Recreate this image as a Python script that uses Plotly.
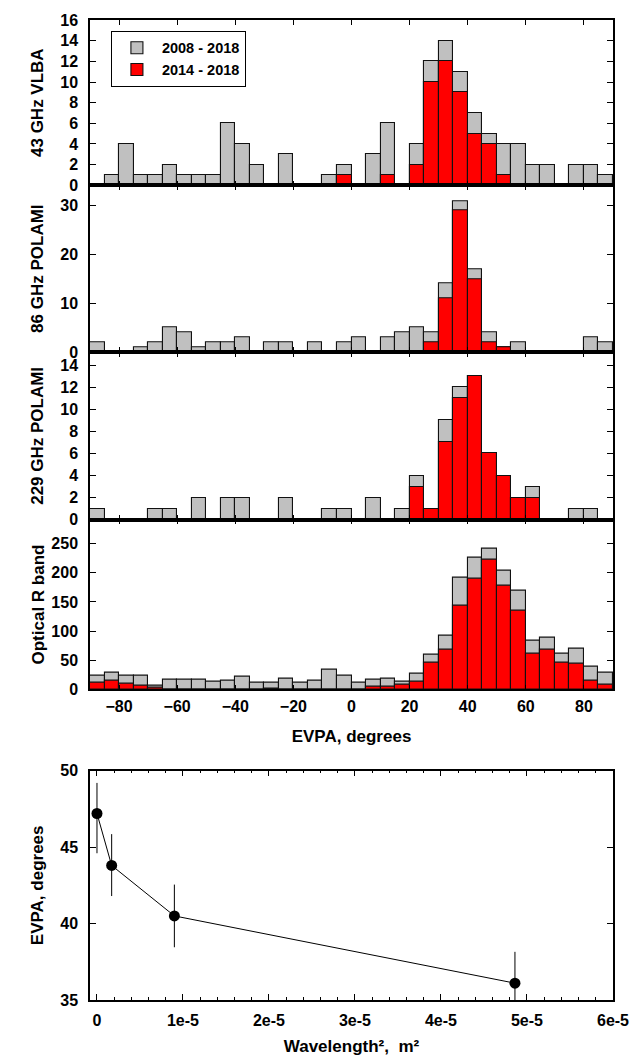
import numpy as np
import plotly.graph_objects as go

# ---------------- data ----------------
bin_width = 5
evpa_bin_centers = list(np.arange(-87.5, 90, bin_width))   # 36 bins of 5 deg from -90 to 90
evpa_ticks = [-80, -60, -40, -20, 0, 20, 40, 60, 80]

vlba43_2008_2018 = [0, 1, 4, 1, 1, 2, 1, 1, 1, 6, 4, 2, 0, 3, 0, 0, 1, 2,
                    0, 3, 6, 0, 4, 12, 14, 11, 7, 5, 4, 4, 2, 2, 0, 2, 2, 1]
vlba43_2014_2018 = [0, 0, 0, 0, 0, 0, 0, 0, 0, 0, 0, 0, 0, 0, 0, 0, 0, 1,
                    0, 0, 1, 0, 2, 10, 12, 9, 5, 4, 1, 0, 0, 0, 0, 0, 0, 0]

polami86_2008_2018 = [2, 0, 0, 1, 2, 5, 4, 1, 2, 2, 3, 0, 2, 2, 0, 2, 0, 2,
                      3, 0, 3, 4, 5, 4, 14, 31, 17, 4, 1, 2, 0, 0, 0, 0, 3, 2]
polami86_2014_2018 = [0, 0, 0, 0, 0, 0, 0, 0, 0, 0, 0, 0, 0, 0, 0, 0, 0, 0,
                      0, 0, 0, 0, 0, 2, 11, 29, 15, 2, 1, 0, 0, 0, 0, 0, 0, 0]

polami229_2008_2018 = [1, 0, 0, 0, 1, 1, 0, 2, 0, 2, 2, 0, 0, 2, 0, 0, 1, 1,
                       0, 2, 0, 1, 4, 1, 9, 12, 13, 6, 4, 2, 3, 0, 0, 1, 1, 0]
polami229_2014_2018 = [0, 0, 0, 0, 0, 0, 0, 0, 0, 0, 0, 0, 0, 0, 0, 0, 0, 0,
                       0, 0, 0, 0, 3, 1, 7, 11, 13, 6, 4, 2, 2, 0, 0, 0, 0, 0]

optical_2008_2018 = [23, 29, 23, 23, 7, 17, 17, 16, 13, 14, 22, 12, 12, 19, 11, 15, 34, 24,
                     11, 16, 19, 13, 27, 59, 92, 192, 225, 241, 204, 170, 84, 88, 62, 69, 38, 28]
optical_2014_2018 = [11, 15, 10, 6, 3, 0, 0, 0, 0, 0, 0, 0, 1, 0, 0, 0, 0, 0,
                     0, 4, 4, 8, 13, 46, 68, 143, 190, 223, 178, 135, 61, 68, 46, 44, 14, 8]

panel_titles = ["43 GHz VLBA", "86 GHz POLAMI", "229 GHz POLAMI", "Optical R band"]
panel_yranges = [[0, 16], [0, 34.2], [0, 15.2], [0, 291]]
panel_yticks = [list(range(0, 17, 2)), [0, 10, 20, 30], list(range(0, 15, 2)),
                [0, 50, 100, 150, 200, 250]]

wavelength2 = [4.2e-13, 1.71e-6, 9.0e-6, 4.86e-5]
evpa_mean = [47.2, 43.8, 40.5, 36.1]
evpa_err_plus = [2.0, 2.05, 2.05, 2.05]
evpa_err_minus = [2.6, 2.0, 2.05, 2.05]
wl2_tickvals = [0, 1e-5, 2e-5, 3e-5, 4e-5, 5e-5, 6e-5]
wl2_ticktext = ["0", "1e-5", "2e-5", "3e-5", "4e-5", "5e-5", "6e-5"]
evpa_yticks = [35, 40, 45, 50]

# ---------------- figure ----------------
FONT = "Liberation Sans, Arial, Helvetica, sans-serif"
GRAY = "#c0c0c0"
RED = "#ff0000"

all_counts = [vlba43_2008_2018, polami86_2008_2018, polami229_2008_2018, optical_2008_2018]
recent_counts = [vlba43_2014_2018, polami86_2014_2018, polami229_2014_2018, optical_2014_2018]

fig = go.Figure()
for i in range(4):
    xa = "x" if i == 0 else f"x{i+1}"
    ya = "y" if i == 0 else f"y{i+1}"
    fig.add_trace(go.Bar(x=evpa_bin_centers, y=all_counts[i], width=bin_width,
                         marker=dict(color=GRAY, line=dict(color="#111111", width=1.1)),
                         name="2008 - 2018", showlegend=(i == 0), xaxis=xa, yaxis=ya))
    fig.add_trace(go.Bar(x=evpa_bin_centers, y=recent_counts[i], width=bin_width,
                         marker=dict(color=RED, line=dict(color="#111111", width=1.1)),
                         name="2014 - 2018", showlegend=(i == 0), xaxis=xa, yaxis=ya))

fig.add_trace(go.Scatter(x=wavelength2, y=evpa_mean, mode="lines+markers",
                         line=dict(color="black", width=1),
                         marker=dict(color="black", size=11),
                         error_y=dict(type="data", array=evpa_err_plus, arrayminus=evpa_err_minus,
                                      symmetric=False, color="black", thickness=1, width=0),
                         showlegend=False, xaxis="x5", yaxis="y5"))

# panel vertical domains (fractions of the plot area)
domains = [[0.8313, 1.0], [0.6612, 0.8313], [0.4901, 0.6612], [0.3170, 0.4901]]
title_standoff = [12, 12, 12, 2]

axis_common = dict(showline=True, linecolor="black", linewidth=1.5, mirror="ticks",
                   ticks="inside", tickcolor="black", showgrid=False, zeroline=False,
                   automargin=False)

layout = dict(
    width=644, height=1063,
    margin=dict(l=82, r=39, t=12, b=71, autoexpand=False),
    paper_bgcolor="white", plot_bgcolor="white",
    font=dict(family=FONT, size=16, color="black", weight="bold"),
    barmode="overlay", bargap=0,
    showlegend=True,
    legend=dict(x=0.04, y=0.989, xanchor="left", yanchor="top",
                bordercolor="black", borderwidth=1, bgcolor="white",
                font=dict(size=14.5, family=FONT, weight="bold"),
                traceorder="normal", itemwidth=40, tracegroupgap=0),
)

for i in range(4):
    xk = "xaxis" if i == 0 else f"xaxis{i+1}"
    yk = "yaxis" if i == 0 else f"yaxis{i+1}"
    ya = "y" if i == 0 else f"y{i+1}"
    xa = "x" if i == 0 else f"x{i+1}"
    layout[xk] = dict(axis_common, domain=[0, 1], anchor=ya, range=[-90, 90],
                      tickvals=evpa_ticks, ticklen=5,
                      showticklabels=(i == 3), ticklabelstandoff=2,
                      tickfont=dict(size=16, family=FONT, weight="bold"))
    if i == 3:
        layout[xk]["title"] = dict(text="EVPA, degrees", standoff=16,
                                   font=dict(size=17, family=FONT, weight="bold"))
    layout[yk] = dict(axis_common, domain=domains[i], anchor=xa, range=panel_yranges[i],
                      tickvals=panel_yticks[i], ticklen=6, ticklabelstandoff=7,
                      tickfont=dict(size=16, family=FONT, weight="bold"),
                      title=dict(text=panel_titles[i], standoff=title_standoff[i],
                                 font=dict(size=17, family=FONT, weight="bold")))

layout["xaxis5"] = dict(axis_common, domain=[0, 1], anchor="y5", range=[-8.1e-7, 6e-5],
                        tickvals=wl2_tickvals, ticktext=wl2_ticktext, ticklen=6,
                        ticklabelstandoff=5,
                        minor=dict(dtick=2e-6, ticks="inside", ticklen=3, tickcolor="black"),
                        tickfont=dict(size=16, family=FONT, weight="bold"),
                        title=dict(text="Wavelength²,  m²", standoff=12,
                                   font=dict(size=17, family=FONT, weight="bold")))
layout["yaxis5"] = dict(axis_common, domain=[0, 0.234], anchor="x5", range=[35, 50],
                        tickvals=evpa_yticks, ticklen=6, ticklabelstandoff=7,
                        tickfont=dict(size=16, family=FONT, weight="bold"),
                        title=dict(text="EVPA, degrees", standoff=12,
                                   font=dict(size=17, family=FONT, weight="bold")))

fig.update_layout(layout)
fig.write_html("out.html")
